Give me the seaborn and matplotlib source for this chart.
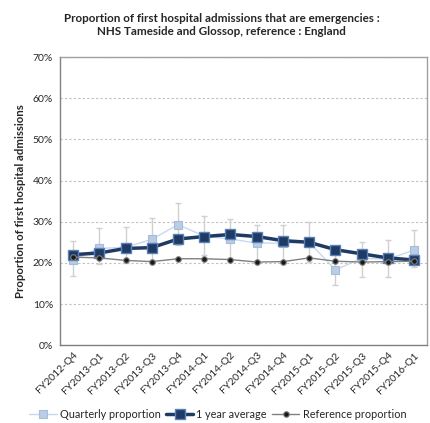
import matplotlib
matplotlib.use("Agg")
import matplotlib.pyplot as plt
import seaborn as sns
import pandas as pd
import numpy as np

quarters = ["FY2012-Q4", "FY2013-Q1", "FY2013-Q2", "FY2013-Q3", "FY2013-Q4",
            "FY2014-Q1", "FY2014-Q2", "FY2014-Q3", "FY2014-Q4", "FY2015-Q1",
            "FY2015-Q2", "FY2015-Q3", "FY2015-Q4", "FY2016-Q1"]
quarterly = [20.8, 23.5, 23.8, 25.7, 29.3, 26.5, 25.8, 24.8, 24.8, 25.0, 18.3, 21.1, 20.9, 23.1]
q_lower = [16.7, 19.8, 20.0, 20.7, 24.3, 21.8, 21.2, 20.5, 20.5, 20.2, 14.6, 16.6, 16.6, 19.0]
q_upper = [25.3, 28.4, 28.8, 31.0, 34.6, 31.4, 30.6, 29.3, 29.3, 30.0, 22.2, 25.1, 25.5, 28.0]
year_avg = [22.0, 22.4, 23.5, 23.7, 25.8, 26.4, 26.9, 26.4, 25.4, 25.0, 23.2, 22.2, 21.2, 20.7]
reference = [21.4, 21.2, 20.6, 20.3, 21.0, 21.0, 20.8, 20.2, 20.3, 21.2, 20.4, 20.2, 20.3, 20.4]

sns.set_theme(style="white")
plt.rcParams['font.family'] = ['Lato', 'DejaVu Sans']

df = pd.DataFrame({"x": np.arange(len(quarters)), "quarterly": quarterly,
                   "year_avg": year_avg, "reference": reference})

fig = plt.figure(figsize=(4.3, 4.23), dpi=100)
ax = fig.add_axes([0.1395, 0.184, 0.854, 0.681])

x = df["x"].values
yq = np.array(quarterly)
ax.errorbar(x, yq, yerr=[yq - np.array(q_lower), np.array(q_upper) - yq],
            fmt="none", ecolor="#d0d0d0", elinewidth=1.0, capsize=2.5, capthick=1.0, zorder=1)

sns.lineplot(data=df, x="x", y="quarterly", ax=ax, color="#c6d9f1", linewidth=1.0,
             marker="s", markersize=6, markerfacecolor="#b9cde5", markeredgecolor="#a6bcd8",
             markeredgewidth=0.8, label="Quarterly proportion", zorder=2)
sns.lineplot(data=df, x="x", y="year_avg", ax=ax, color="#1f3b63", linewidth=2.5,
             marker="s", markersize=6.5, markerfacecolor="#1f3b63", markeredgecolor="#5a82b8",
             markeredgewidth=1.0, label="1 year average", zorder=3)
sns.lineplot(data=df, x="x", y="reference", ax=ax, color="#808080", linewidth=1.0,
             marker="o", markersize=4, markerfacecolor="#1a1a1a", markeredgecolor="#808080",
             markeredgewidth=0.8, label="Reference proportion", zorder=4)

ax.set_xlim(-0.5, len(quarters) - 0.5)
ax.set_ylim(0, 70)
ax.set_yticks(range(0, 71, 10))
ax.set_yticklabels([f"{v}%" for v in range(0, 71, 10)], fontsize=7.5)
ax.set_xticks(x)
ax.set_xticklabels(quarters, rotation=45, ha="right", rotation_mode="anchor", fontsize=7.5)
ax.set_xticks(np.arange(-0.5, len(quarters), 1), minor=True)
ax.tick_params(axis="x", which="major", length=0, pad=4)
ax.tick_params(axis="x", which="minor", length=3, color="#808080", direction="out")
ax.tick_params(axis="y", length=3, color="#808080", direction="out", pad=2)
ax.yaxis.grid(True, linestyle=(0, (2, 2)), color="#c0c0c0", linewidth=0.8)
ax.set_axisbelow(True)
for s in ax.spines.values():
    s.set_color("#a0a0a0")
    s.set_linewidth(1.0)
ax.spines["left"].set_color("#808080")
ax.spines["bottom"].set_color("#808080")

ax.set_xlabel("")
ax.set_ylabel("Proportion of first hospital admissions", fontsize=8.2, fontweight="bold")
ax.yaxis.set_label_coords(-0.093, 0.5)

fig.suptitle("Proportion of first hospital admissions that are emergencies :\nNHS Tameside and Glossop, reference : England",
             x=0.515, y=0.97, fontsize=8.4, fontweight="bold", linespacing=1.3)

ax.legend(loc="upper center", bbox_to_anchor=(0.43, -0.205), ncol=3, frameon=False,
          fontsize=7.8, handlelength=2.5, columnspacing=0.5, handletextpad=0.3, borderaxespad=0)

fig.savefig("out.png", dpi=100)
